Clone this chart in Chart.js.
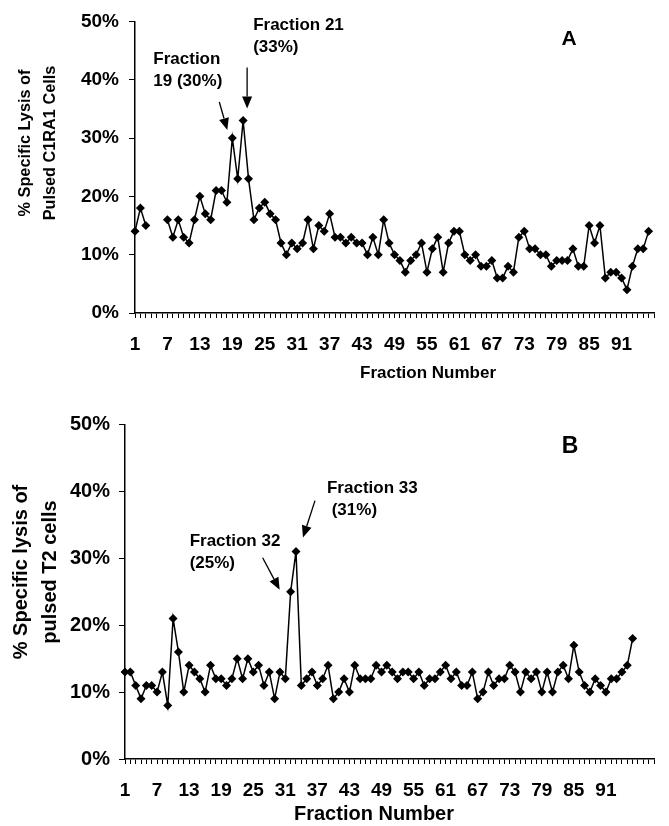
<!DOCTYPE html>
<html>
<head>
<meta charset="utf-8">
<script src="https://cdn.jsdelivr.net/npm/chart.js@4.4.0/dist/chart.umd.min.js"></script>
<style>
  html, body { margin:0; padding:0; background:#fff; }
  #wrap { position:relative; width:669px; height:826px; }
  .panel { position:absolute; left:0; }
  #panelA { top:0; }
  #panelB { top:400px; }
</style>
</head>
<body>
<div id="wrap">
  <div class="panel" id="panelA"><canvas id="chartA" width="669" height="400"></canvas></div>
  <div class="panel" id="panelB"><canvas id="chartB" width="669" height="426"></canvas></div>
</div>
<script>
// x axis slots (fraction numbers) and the labels that are printed
var fractionsA = []
for (var i = 1; i <= 97; i++) fractionsA.push(String(i))
var fractionsB = []
for (var i = 1; i <= 100; i++) fractionsB.push(String(i))
var tickLabels = ['1','7','13','19','25','31','37','43','49','55','61','67','73','79','85','91']

// panel A - % specific lysis of pulsed C1RA1 cells (fractions 4-6 missing)
var lysisA = [14,18,15,null,null,null,16,13,16,13,12,16,20,17,16,21,21,19,30,23,
              33,23,16,18,19,17,16,12,10,12,11,12,16,11,15,14,17,13,13,12,
              13,12,12,10,13,10,16,12,10,9,7,9,10,12,7,11,13,7,12,14,
              14,10,9,10,8,8,9,6,6,8,7,13,14,11,11,10,10,8,9,9,
              9,11,8,8,15,12,15,6,7,7,6,4,8,11,11,14]

// panel B - % specific lysis of pulsed T2 cells
var lysisB = [13,13,11,9,11,11,10,13,8,21,16,10,14,13,12,10,14,12,12,11,
              12,15,12,15,13,14,11,13,9,13,12,25,31,11,12,13,11,12,14,9,
              10,12,10,14,12,12,12,14,13,14,13,12,13,13,12,13,11,12,12,13,
              14,12,13,11,11,13,9,10,13,11,12,12,14,13,10,13,12,13,10,13,
              10,13,14,12,17,13,11,10,12,11,10,12,12,13,14,18]

var calloutsA = [
  {fraction: 19, text: ['Fraction', '19 (30%)']},
  {fraction: 21, text: ['Fraction 21', '(33%)']}
]
var calloutsB = [
  {fraction: 32, text: ['Fraction 32', '(25%)']},
  {fraction: 33, text: ['Fraction 33', ' (31%)']}
]

var FONT = "'Liberation Sans', Arial, sans-serif"

function drawArrow(ctx, x1, y1, x2, y2) {
  var a = Math.atan2(y2 - y1, x2 - x1), len = 12, half = 5
  var bx = x2 - Math.cos(a) * len, by = y2 - Math.sin(a) * len
  ctx.beginPath()
  ctx.moveTo(x1, y1)
  ctx.lineTo(bx, by)
  ctx.stroke()
  ctx.beginPath()
  ctx.moveTo(x2, y2)
  ctx.lineTo(bx - Math.sin(a) * half, by + Math.cos(a) * half)
  ctx.lineTo(bx + Math.sin(a) * half, by - Math.cos(a) * half)
  ctx.closePath()
  ctx.fill()
}

// axis titles, panel letter and the arrows pointing at the peaks
var annotate = {
  id: 'annotate',
  afterDraw: function(chart, args, o) {
    var ctx = chart.ctx, xs = chart.scales.x, ys = chart.scales.y
    var data = chart.data.datasets[0].data
    ctx.save()
    ctx.fillStyle = '#000'
    ctx.strokeStyle = '#000'
    ctx.lineWidth = 1.3
    ctx.textBaseline = 'alphabetic'
    ctx.textAlign = 'center'

    ctx.font = 'bold ' + o.yTitleSize + 'px ' + FONT
    o.yTitle.forEach(function(line, i) {
      ctx.save()
      ctx.translate(o.yTitleX[i], o.yTitleY)
      ctx.rotate(-Math.PI / 2)
      ctx.fillText(line, 0, 0)
      ctx.restore()
    })

    ctx.font = 'bold ' + o.xTitleSize + 'px ' + FONT
    ctx.fillText('Fraction Number', o.xTitlePos[0], o.xTitlePos[1])

    ctx.font = 'bold ' + o.letterSize + 'px ' + FONT
    ctx.fillText(o.letter, o.letterPos[0], o.letterPos[1])

    ctx.font = 'bold 17px ' + FONT
    ctx.textAlign = 'left'
    o.callouts.forEach(function(c, i) {
      var L = o.layout[i]
      var px = xs.getPixelForValue(c.fraction - 1)
      var py = ys.getPixelForValue(data[c.fraction - 1])
      drawArrow(ctx, px + L.from[0], py + L.from[1], px + L.to[0], py + L.to[1])
      c.text.forEach(function(t, j) {
        ctx.fillText(t, px + L.text[0], py + L.text[1] + j * 22)
      })
    })
    ctx.restore()
  }
}

function makeChart(id, cats, values, p) {
  return new Chart(document.getElementById(id), {
    type: 'line',
    data: {
      labels: cats,
      datasets: [{
        data: values,
        borderColor: '#000',
        borderWidth: 1.5,
        backgroundColor: '#000',
        pointStyle: 'rectRot',
        pointRadius: 4.5,
        pointBorderWidth: 0,
        pointBackgroundColor: '#000',
        tension: 0,
        spanGaps: false
      }]
    },
    options: {
      responsive: false,
      animation: false,
      layout: { autoPadding: false, padding: { left: 0, top: p.top, right: p.right, bottom: 0 } },
      plugins: {
        legend: { display: false },
        tooltip: { enabled: false },
        annotate: p.annot
      },
      scales: {
        x: {
          type: 'category',
          offset: false,
          afterFit: function(s) { s.height = p.xHeight },
          grid: { drawOnChartArea: false, drawTicks: true, tickLength: 5, color: '#000', lineWidth: 1 },
          border: { color: '#000', width: 1.5 },
          ticks: {
            autoSkip: false, maxRotation: 0, minRotation: 0, padding: 15,
            color: '#000',
            font: { family: FONT, size: p.xTickSize, weight: 'bold' },
            callback: function(v, idx) {
              var lab = this.getLabelForValue(v)
              return tickLabels.indexOf(lab) >= 0 ? lab : ''
            }
          }
        },
        y: {
          min: 0, max: 50,
          afterFit: function(s) { s.width = p.left },
          grid: { drawOnChartArea: false, drawTicks: true, tickLength: 6, color: '#000', lineWidth: 1 },
          border: { color: '#000', width: 1.5 },
          ticks: {
            stepSize: 10, padding: p.yPad, color: '#000',
            font: { family: FONT, size: p.yTickSize, weight: 'bold' },
            callback: function(v) { return v + '%' }
          }
        }
      }
    },
    plugins: [annotate]
  })
}

makeChart('chartA', fractionsA, lysisA, {
  top: 20, right: 11, left: 135, xHeight: 87, xTickSize: 19, yTickSize: 19, yPad: 10,
  annot: {
    yTitle: ['% Specific Lysis of', 'Pulsed C1RA1 Cells'], yTitleSize: 16.3, yTitleX: [30, 55], yTitleY: 143,
    xTitleSize: 17, xTitlePos: [428, 378],
    letter: 'A', letterSize: 21, letterPos: [569, 45],
    callouts: calloutsA,
    layout: [
      { from: [-13, -36], to: [-5, -8], text: [-79, -74] },
      { from: [4, -53], to: [4, -12], text: [10, -91] }
    ]
  }
})

makeChart('chartB', fractionsB, lysisB, {
  top: 24.5, right: 12, left: 125, xHeight: 67, xTickSize: 19, yTickSize: 20, yPad: 9,
  annot: {
    yTitle: ['% Specific lysis of', 'pulsed T2 cells'], yTitleSize: 20, yTitleX: [27, 56], yTitleY: 172,
    xTitleSize: 20, xTitlePos: [374, 420],
    letter: 'B', letterSize: 23, letterPos: [570, 53],
    callouts: calloutsB,
    layout: [
      { from: [-28, -34], to: [-11, -2], text: [-101, -46] },
      { from: [19, -51], to: [7, -14], text: [31, -59] }
    ]
  }
})
</script>
</body>
</html>
